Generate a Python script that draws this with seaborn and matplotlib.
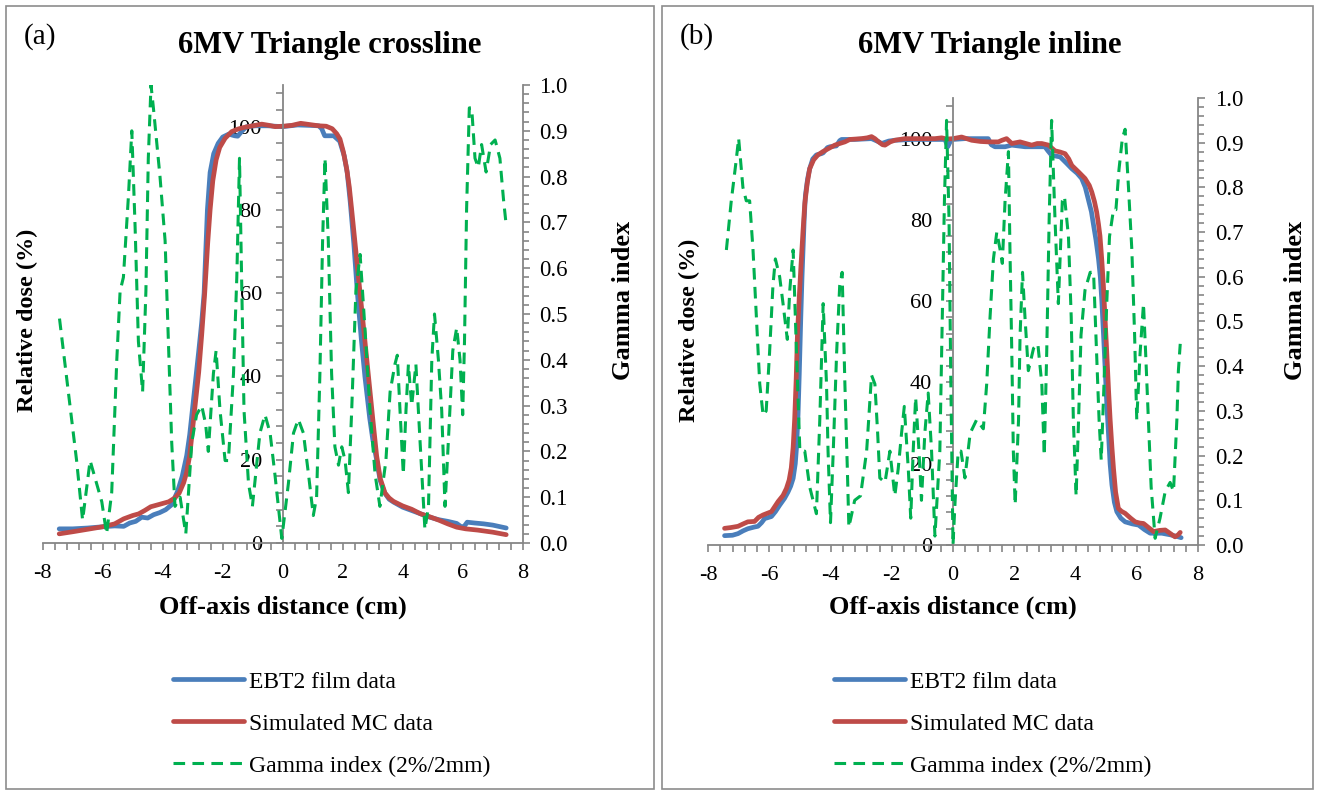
import matplotlib
matplotlib.use("Agg")
import matplotlib.pyplot as plt
from matplotlib.ticker import MultipleLocator, FormatStrFormatter
from matplotlib.patches import Rectangle
import pandas as pd
import seaborn as sns

# ---------------- panel (a): crossline ----------------
a_film_x = [-7.45, -7.0, -6.5, -6.0, -5.6, -5.3, -5.1, -4.9, -4.7, -4.5, -4.3, -4.1, -3.9, -3.7,
            -3.5, -3.35, -3.2, -3.1, -2.95, -2.8, -2.7, -2.62, -2.51, -2.42, -2.3, -2.15, -2.0,
            -1.8, -1.6, -1.5, -1.35, -1.2, -0.9, -0.5, 0.0, 0.5, 0.9, 1.2, 1.3, 1.4, 1.7, 1.9,
            2.05, 2.15, 2.25, 2.37, 2.49, 2.62, 2.74, 2.9, 3.0, 3.13, 3.25, 3.4, 3.55, 3.7, 4.0,
            4.3, 4.6, 4.9, 5.2, 5.5, 5.8, 5.95, 6.05, 6.15, 6.4, 6.7, 7.0, 7.45]
a_film_dose = [3.4, 3.4, 3.6, 3.9, 4.1, 4.0, 4.8, 5.2, 6.2, 6.0, 6.8, 7.3, 8.0, 9.2,
               12.5, 16, 21, 26, 36, 46, 53, 60, 80, 89, 93.5, 96, 97.5,
               98.2, 97.8, 97.7, 99, 100, 100.2, 100.2, 100, 100.4, 100.3, 100.2, 99.5, 97.8, 97.8, 96.5,
               93, 89, 82, 72, 60, 49, 40, 30, 25, 20, 15, 12, 10.5, 9.8, 8.6,
               7.8, 7.0, 6.2, 5.6, 5.2, 4.7, 3.9, 4.0, 5.0, 4.8, 4.6, 4.3, 3.6]

a_mc_x = [-7.45, -7.0, -6.5, -6.0, -5.6, -5.3, -5.0, -4.8, -4.6, -4.4, -4.1, -3.8, -3.6, -3.45,
          -3.3, -3.2, -3.1, -2.95, -2.8, -2.7, -2.6, -2.5, -2.42, -2.33, -2.22, -2.1, -1.92,
          -1.7, -1.5, -1.3, -1.0, -0.7, -0.45, -0.25, 0.0, 0.3, 0.6, 0.9, 1.2, 1.45, 1.65,
          1.8, 1.91, 2.02, 2.13, 2.22, 2.3, 2.44, 2.58, 2.72, 2.86, 3.0, 3.13, 3.25, 3.41,
          3.55, 3.69, 4.0, 4.3, 4.6, 4.9, 5.2, 5.5, 5.8, 6.1, 6.5, 7.0, 7.45]
a_mc_dose = [2.2, 2.7, 3.3, 3.9, 4.6, 5.8, 6.6, 7.0, 7.8, 8.7, 9.3, 9.9, 10.8, 12,
             14.5, 17, 21, 31, 41, 50, 60, 72, 80, 87, 92, 95, 97.2,
             98.8, 99.4, 99.8, 100.2, 100.6, 100.3, 100.0, 100.1, 100.3, 100.8, 100.5, 100.2, 100.1, 99.5,
             98.3, 97, 94, 90, 85.5, 80, 70, 60, 50, 40, 30, 21, 15.5, 12,
             10.8, 10.0, 8.9, 8.1, 7.0, 6.3, 5.5, 4.6, 3.8, 3.4, 3.1, 2.6, 2.0]

a_gamma_x = [-7.44, -6.87, -6.67, -6.42, -6.03, -5.87, -5.70, -5.53, -5.42, -5.31, -5.14, -5.03,
             -4.92, -4.81, -4.67, -4.56, -4.48, -4.39, -4.31, -4.09, -3.92, -3.81, -3.70, -3.59,
             -3.42, -3.23, -3.03, -2.87, -2.70, -2.57, -2.48, -2.31, -2.22, -2.09, -1.92, -1.81,
             -1.64, -1.53, -1.44, -1.37, -1.29, -1.14, -1.01, -0.76, -0.59, -0.42, -0.26, -0.03,
             0.19, 0.36, 0.52, 0.69, 0.86, 1.02, 1.13, 1.24, 1.33, 1.41, 1.52, 1.63, 1.74, 1.86,
             1.97, 2.08, 2.19, 2.30, 2.44, 2.58, 2.74, 2.91, 3.08, 3.24, 3.44, 3.58, 3.74, 3.82,
             3.91, 4.02, 4.11, 4.19, 4.30, 4.44, 4.58, 4.74, 4.86, 4.97, 5.06, 5.19, 5.30, 5.41,
             5.52, 5.67, 5.80, 5.91, 6.00, 6.06, 6.13, 6.22, 6.30, 6.41, 6.52, 6.63, 6.78, 6.93,
             7.08, 7.24, 7.36, 7.44]
a_gamma = [0.49, 0.18, 0.05, 0.18, 0.09, 0.02, 0.11, 0.40, 0.55, 0.58, 0.76, 0.90,
           0.69, 0.44, 0.33, 0.55, 0.84, 1.00, 0.95, 0.80, 0.66, 0.44, 0.22, 0.08,
           0.10, 0.02, 0.22, 0.28, 0.30, 0.26, 0.20, 0.37, 0.42, 0.29, 0.18, 0.18,
           0.37, 0.58, 0.84, 0.58, 0.29, 0.13, 0.08, 0.24, 0.28, 0.24, 0.15, 0.01,
           0.13, 0.24, 0.27, 0.24, 0.15, 0.06, 0.10, 0.37, 0.66, 0.84, 0.66, 0.37, 0.21, 0.17,
           0.21, 0.18, 0.11, 0.29, 0.55, 0.63, 0.47, 0.29, 0.15, 0.08, 0.18, 0.33, 0.39, 0.41,
           0.29, 0.15, 0.29, 0.39, 0.30, 0.39, 0.22, 0.03, 0.08, 0.40, 0.50, 0.40, 0.29, 0.08,
           0.22, 0.42, 0.47, 0.40, 0.28, 0.44, 0.73, 0.95, 0.95, 0.84, 0.82, 0.87, 0.81, 0.87,
           0.88, 0.84, 0.75, 0.70]

# ---------------- panel (b): inline ----------------
b_film_x = [-7.46, -7.2, -7.02, -6.85, -6.7, -6.5, -6.37, -6.25, -6.15, -5.93, -5.8, -5.66, -5.5,
            -5.39, -5.3, -5.22, -5.15, -5.11, -5.06, -5.02, -4.97, -4.93, -4.9, -4.86, -4.82,
            -4.75, -4.68, -4.58, -4.46, -4.3, -4.24, -4.1, -4.02, -3.81, -3.7, -3.64, -3.21,
            -2.66, -2.45, -2.33, -2.1, -1.9, -1.3, -0.81, -0.26, -0.17, -0.07, 0.0, 0.39, 1.15,
            1.25, 1.37, 1.7, 1.92, 2.35, 3.0, 3.1, 3.22, 3.5, 3.7, 3.88, 4.05, 4.2, 4.32, 4.42,
            4.52, 4.59, 4.67, 4.75, 4.81, 4.86, 4.92, 4.97, 5.02, 5.08, 5.13, 5.19, 5.27, 5.35,
            5.48, 5.62, 5.85, 6.06, 6.25, 6.44, 6.82, 7.1, 7.36, 7.45]
b_film_dose = [2.3, 2.4, 2.8, 3.5, 4.0, 4.4, 4.6, 5.5, 6.5, 7.0, 8.2, 9.8, 11.5,
               13, 14.5, 16.4, 20, 24, 32, 42, 56, 66, 72, 80, 86,
               90, 92.6, 95, 96, 96.3, 96.5, 97.8, 98, 98.2, 99.5, 99.8, 99.8,
               100, 99.3, 98.8, 99.4, 99.6, 99.8, 99.8, 99.8, 98, 99.6, 99.8, 100, 100,
               98.5, 98, 98, 98.4, 98, 98, 97, 95.9, 95.5, 94, 92.6, 91.5, 90.2, 88, 85,
               82, 78.7, 75, 70.5, 66, 60, 51, 43, 35, 27, 20, 14.8, 10.5, 8.2,
               6.6, 5.7, 5.2, 4.9, 3.8, 2.9, 2.9, 2.5, 2.0, 1.8]

b_mc_x = [-7.46, -7.25, -7.02, -6.85, -6.7, -6.48, -6.35, -6.2, -5.93, -5.71, -5.55, -5.44,
          -5.35, -5.28, -5.22, -5.17, -5.12, -5.08, -5.02, -4.97, -4.9, -4.84, -4.76, -4.68,
          -4.55, -4.41, -4.25, -4.08, -3.86, -3.7, -3.53, -3.37, -2.99, -2.8, -2.66, -2.55,
          -2.46, -2.3, -2.22, -2.05, -1.9, -1.57, -1.03, -0.59, -0.37, -0.2, 0.0, 0.28, 0.61,
          0.9, 1.15, 1.48, 1.6, 1.75, 1.92, 2.05, 2.19, 2.57, 2.75, 2.9, 3.12, 3.33, 3.5,
          3.66, 3.78, 3.88, 4.1, 4.31, 4.45, 4.53, 4.62, 4.69, 4.75, 4.8, 4.86, 4.91, 4.97,
          5.02, 5.08, 5.13, 5.19, 5.24, 5.31, 5.4, 5.5, 5.62, 5.8, 5.95, 6.1, 6.22, 6.4,
          6.55, 6.75, 6.93, 7.1, 7.25, 7.35, 7.42]
b_mc_dose = [4.1, 4.3, 4.6, 5.2, 5.7, 5.8, 6.8, 7.4, 8.2, 10.7, 12.2, 13.9,
             16, 19, 24, 31, 41, 51.6, 61, 68, 77, 84, 89, 92.6,
             94.8, 96, 96.8, 97.5, 98.4, 98.8, 99.2, 99.8, 100, 100.2, 100.5, 100.0,
             99.4, 98.5, 98.4, 99.2, 99.6, 100, 100, 100, 100.2, 99.9, 100, 100.4, 99.6,
             99.3, 99.2, 99.2, 99.6, 100, 98.8, 99, 99.2, 98.4, 98.8, 98.8, 98.4, 97, 96.7,
             96.3, 95, 93.4, 91.8, 90.2, 88.5, 86.9, 84.5, 82, 79, 76, 70, 64, 55,
             47.5, 38, 31, 24, 18.9, 13, 9, 8.3, 7.8, 6.6, 5.7, 5.4, 5.3, 4.2,
             3.3, 3.6, 3.7, 2.8, 2.0, 2.5, 3.1]

b_gamma_x = [-7.40, -7.24, -7.08, -7.00, -6.86, -6.75, -6.64, -6.53, -6.42, -6.31, -6.20, -6.10,
             -5.99, -5.88, -5.80, -5.66, -5.55, -5.41, -5.33, -5.22, -5.11, -5.00, -4.84, -4.68,
             -4.46, -4.35, -4.24, -4.13, -4.08, -4.00, -3.91, -3.80, -3.70, -3.62, -3.53, -3.45,
             -3.40, -3.21, -3.02, -2.82, -2.66, -2.55, -2.46, -2.39, -2.22, -2.06, -1.90, -1.79,
             -1.68, -1.59, -1.46, -1.38, -1.30, -1.22, -1.11, -1.03, -0.92, -0.81, -0.70, -0.59,
             -0.43, -0.35, -0.28, -0.21, -0.13, -0.07, 0.00, 0.07, 0.17, 0.26, 0.39, 0.56, 0.77,
             0.99, 1.10, 1.21, 1.32, 1.43, 1.54, 1.61, 1.70, 1.81, 1.86, 1.92, 1.97, 2.03, 2.14,
             2.19, 2.27, 2.35, 2.46, 2.63, 2.77, 2.90, 2.98, 3.06, 3.14, 3.22, 3.33, 3.44, 3.57,
             3.64, 3.77, 3.86, 3.93, 4.02, 4.10, 4.18, 4.31, 4.48, 4.59, 4.69, 4.77, 4.84, 4.91,
             5.02, 5.11, 5.24, 5.32, 5.42, 5.53, 5.62, 5.73, 5.84, 5.93, 6.00, 6.11, 6.22, 6.29,
             6.38, 6.47, 6.60, 6.76, 6.93, 7.09, 7.20, 7.31, 7.36, 7.42]
b_gamma = [0.66, 0.77, 0.86, 0.91, 0.80, 0.77, 0.77, 0.66, 0.51, 0.36, 0.29, 0.30,
           0.43, 0.58, 0.64, 0.60, 0.54, 0.46, 0.57, 0.66, 0.43, 0.21, 0.21, 0.13,
           0.07, 0.28, 0.54, 0.36, 0.21, 0.05, 0.21, 0.43, 0.58, 0.61, 0.36, 0.17,
           0.04, 0.10, 0.11, 0.21, 0.38, 0.36, 0.25, 0.15, 0.14, 0.21, 0.11, 0.17,
           0.25, 0.31, 0.17, 0.06, 0.21, 0.33, 0.21, 0.10, 0.25, 0.34, 0.21, 0.02,
           0.21, 0.51, 0.77, 0.95, 0.73, 0.36, 0.00, 0.10, 0.21, 0.21, 0.15, 0.25, 0.28,
           0.26, 0.36, 0.51, 0.64, 0.70, 0.66, 0.63, 0.77, 0.88, 0.66, 0.43, 0.21, 0.09, 0.28,
           0.47, 0.61, 0.51, 0.39, 0.44, 0.45, 0.36, 0.20, 0.43, 0.73, 0.95, 0.73, 0.54, 0.77,
           0.78, 0.69, 0.51, 0.28, 0.11, 0.28, 0.47, 0.57, 0.61, 0.61, 0.43, 0.28, 0.19, 0.32,
           0.54, 0.69, 0.75, 0.75, 0.84, 0.91, 0.93, 0.80, 0.66, 0.47, 0.28, 0.43, 0.54, 0.43,
           0.28, 0.13, 0.015, 0.06, 0.12, 0.14, 0.12, 0.28, 0.39, 0.45]

titles = ["6MV Triangle crossline", "6MV Triangle inline"]
panel_tags = ["(a)", "(b)"]
series_labels = ["EBT2 film data", "Simulated MC data", "Gamma index (2%/2mm)"]
x_label = "Off-axis distance (cm)"
dose_label = "Relative dose (%)"
gamma_label = "Gamma index"

FILM_C = "#4A7EBB"
MC_C = "#BE4B48"
GAMMA_C = "#00B050"
SPINE_C = "#868686"

sns.set_theme(style="white")
plt.rcParams["font.family"] = ["Liberation Serif", "DejaVu Serif"]
plt.rcParams["axes.unicode_minus"] = False
plt.rcParams["text.color"] = "black"
plt.rcParams["axes.labelcolor"] = "black"

W, H = 1319, 794
fig = plt.figure(figsize=(W / 100, H / 100), dpi=100)
fig.patch.set_facecolor("white")


def fx(px):
    return px / W


def fy(py):
    return 1 - py / H


panels = [
    dict(film=(a_film_x, a_film_dose), mc=(a_mc_x, a_mc_dose), gam=(a_gamma_x, a_gamma),
         box=(6, 6, 654, 789), ax=(42.7, 85, 522.7, 543), center=330,
         ylab=(-0.031, 0.487), glab=(1.209, 0.53), xlab=(0.5, -0.14), leg=(173, 671)),
    dict(film=(b_film_x, b_film_dose), mc=(b_mc_x, b_mc_dose), gam=(b_gamma_x, b_gamma),
         box=(662, 6, 1313, 789), ax=(708, 98, 1198, 545), center=990,
         ylab=(-0.037, 0.48), glab=(1.198, 0.548), xlab=(0.5, -0.139), leg=(834, 671)),
]

for i, p in enumerate(panels):
    bx0, by0, bx1, by1 = p["box"]
    fig.patches.append(Rectangle((fx(bx0), fy(by1)), fx(bx1 - bx0), (by1 - by0) / H,
                                 transform=fig.transFigure, fill=False,
                                 edgecolor="#8C8C8C", linewidth=1.2))
    x0, y0, x1, y1 = p["ax"]
    ax = fig.add_axes([fx(x0), fy(y1), fx(x1 - x0), (y1 - y0) / H])
    ax.set_facecolor("none")

    film = pd.DataFrame({"x": p["film"][0], "y": p["film"][1]})
    mc = pd.DataFrame({"x": p["mc"][0], "y": p["mc"][1]})
    gam = pd.DataFrame({"x": p["gam"][0], "y": p["gam"][1]})

    sns.lineplot(data=film, x="x", y="y", ax=ax, color=FILM_C, linewidth=3.4,
                 estimator=None, sort=False, legend=False)
    h_film = ax.lines[-1]
    sns.lineplot(data=mc, x="x", y="y", ax=ax, color=MC_C, linewidth=3.4,
                 estimator=None, sort=False, legend=False)
    h_mc = ax.lines[-1]

    ax.set_xlim(-8, 8)
    ax.set_ylim(0, 110)
    ax.xaxis.set_major_locator(MultipleLocator(2))
    ax.xaxis.set_minor_locator(MultipleLocator(0.4))
    ax.yaxis.set_major_locator(MultipleLocator(20))
    ax.yaxis.set_minor_locator(MultipleLocator(4))
    ax.spines["left"].set_position(("data", 0))
    ax.spines["right"].set_visible(False)
    ax.spines["top"].set_visible(False)
    for s in ("left", "bottom"):
        ax.spines[s].set_color(SPINE_C)
        ax.spines[s].set_linewidth(1.3)
    ax.tick_params(which="both", direction="out", length=5, width=1.2, color=SPINE_C,
                   labelsize=16, labelcolor="black", bottom=True, left=True)
    ax.tick_params(axis="y", pad=10)
    ax.tick_params(axis="x", pad=10)

    ax.set_xlabel(x_label, fontsize=19, fontweight="bold")
    ax.xaxis.label.set_verticalalignment("center")
    ax.xaxis.set_label_coords(*p["xlab"])
    ax.set_ylabel(dose_label, fontsize=17.5, fontweight="bold")
    ax.yaxis.label.set_verticalalignment("center")
    ax.yaxis.set_label_coords(*p["ylab"])

    ax2 = ax.twinx()
    sns.lineplot(data=gam, x="x", y="y", ax=ax2, color=GAMMA_C, linewidth=2.2,
                 estimator=None, sort=False, legend=False)
    h_gam = ax2.lines[-1]
    h_gam.set_dashes((3.8, 2.4))
    ax2.set_ylim(0, 1.0)
    ax2.yaxis.set_major_locator(MultipleLocator(0.1))
    ax2.yaxis.set_minor_locator(MultipleLocator(0.02))
    ax2.yaxis.set_major_formatter(FormatStrFormatter("%.1f"))
    for s in ("left", "top", "bottom"):
        ax2.spines[s].set_visible(False)
    ax2.spines["right"].set_color(SPINE_C)
    ax2.spines["right"].set_linewidth(1.3)
    ax2.tick_params(which="both", direction="out", length=5, width=1.2, color=SPINE_C,
                    labelsize=16.5, labelcolor="black", right=True, pad=7)
    ax2.tick_params(which="minor", length=4)
    ax2.set_ylabel(gamma_label, fontsize=19, fontweight="bold", rotation=90)
    ax2.yaxis.label.set_verticalalignment("center")
    ax2.yaxis.set_label_coords(*p["glab"])
    ax2.set_xlabel("")

    fig.text(fx(p["center"]), fy(45), titles[i], ha="center", va="center",
             fontsize=22, fontweight="bold")
    fig.text(fx(bx0 + 18), fy(37), panel_tags[i], ha="left", va="center", fontsize=21)

    lx, ly = p["leg"]
    fig.legend([h_film, h_mc, h_gam], series_labels, loc="upper left",
               bbox_to_anchor=(fx(lx), fy(ly)), frameon=False, fontsize=17,
               handlelength=3.0, handletextpad=0.2, labelspacing=0.87,
               borderaxespad=0, borderpad=0)

fig.savefig("out.png", dpi=100, facecolor="white")
